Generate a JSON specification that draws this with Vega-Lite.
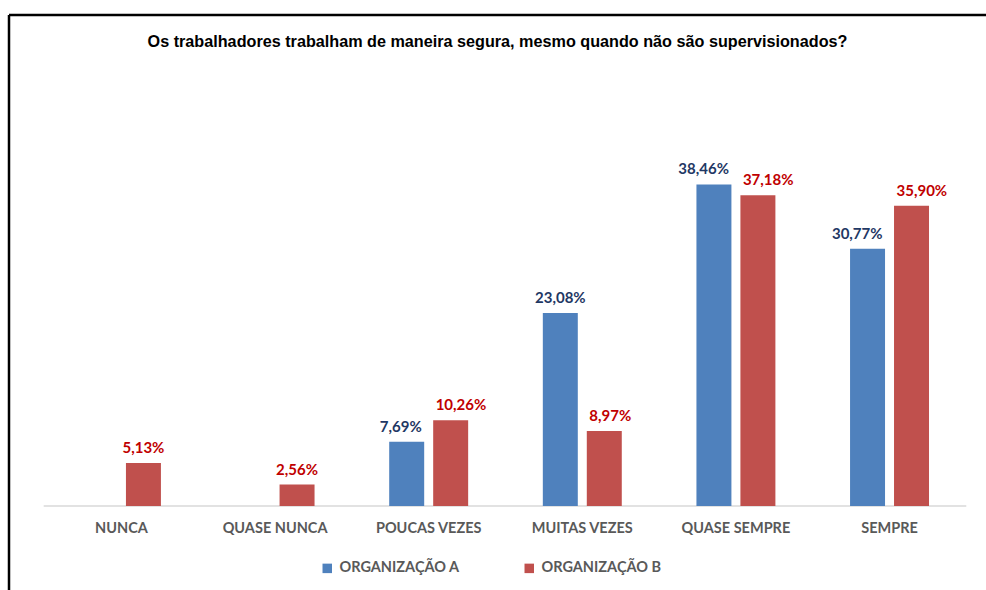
{
  "$schema": "https://vega.github.io/schema/vega-lite/v6.json",
  "autosize": {"type": "none"},
  "padding": {"left": 9, "top": 15, "right": 0, "bottom": 0},
  "width": 977,
  "height": 575,
  "background": "white",
  "title": {
    "text": "Os trabalhadores trabalham de maneira segura, mesmo quando não são supervisionados?",
    "font": "Liberation Sans",
    "fontSize": 16.2,
    "fontWeight": "bold",
    "color": "#000000",
    "anchor": "middle",
    "frame": "group",
    "baseline": "middle",
    "offset": 0,
    "dy": 43
  },
  "config": {
    "view": {"stroke": "#000000", "strokeWidth": 2.5, "strokeDash": [977, 1552, 575, 0]}
  },
  "data": {
    "values": [
      {"cat": "NUNCA", "org": "ORGANIZAÇÃO B", "value": 5.13, "label": "5,13%"},
      {"cat": "QUASE NUNCA", "org": "ORGANIZAÇÃO B", "value": 2.56, "label": "2,56%"},
      {"cat": "POUCAS VEZES", "org": "ORGANIZAÇÃO A", "value": 7.69, "label": "7,69%"},
      {"cat": "POUCAS VEZES", "org": "ORGANIZAÇÃO B", "value": 10.26, "label": "10,26%"},
      {"cat": "MUITAS VEZES", "org": "ORGANIZAÇÃO A", "value": 23.08, "label": "23,08%"},
      {"cat": "MUITAS VEZES", "org": "ORGANIZAÇÃO B", "value": 8.97, "label": "8,97%"},
      {"cat": "QUASE SEMPRE", "org": "ORGANIZAÇÃO A", "value": 38.46, "label": "38,46%"},
      {"cat": "QUASE SEMPRE", "org": "ORGANIZAÇÃO B", "value": 37.18, "label": "37,18%"},
      {"cat": "SEMPRE", "org": "ORGANIZAÇÃO A", "value": 30.77, "label": "30,77%"},
      {"cat": "SEMPRE", "org": "ORGANIZAÇÃO B", "value": 35.90, "label": "35,90%"}
    ]
  },
  "layer": [
    {
      "data": {"values": [{"cat": "NUNCA", "last": "SEMPRE"}]},
      "mark": {"type": "rule", "color": "#D9D9D9", "strokeWidth": 1.5},
      "encoding": {
        "x": {
          "field": "cat",
          "type": "nominal",
          "bandPosition": -0.485,
          "scale": {
            "domain": ["NUNCA", "QUASE NUNCA", "POUCAS VEZES", "MUITAS VEZES", "QUASE SEMPRE", "SEMPRE"],
            "paddingInner": 0.486,
            "paddingOuter": 0.423,
            "align": 0.5615
          },
          "axis": {
            "title": null,
            "orient": "bottom",
            "offset": -84,
            "domain": false,
            "ticks": false,
            "tickSize": 0,
            "labelAngle": 0,
            "labelFont": "Lato",
            "labelFontWeight": "bold",
            "labelFontSize": 14.5,
            "labelColor": "#595959",
            "labelBaseline": "alphabetic",
            "labelPadding": 26
          }
        },
        "x2": {"field": "last", "bandPosition": 1.472},
        "y": {"datum": 0, "type": "quantitative", "scale": {"domain": [-10.05, 58.73], "nice": false, "zero": false}, "axis": null}
      }
    },
    {
      "mark": {"type": "bar"},
      "encoding": {
        "x": {"field": "cat", "type": "nominal"},
        "xOffset": {
          "field": "org",
          "type": "nominal",
          "scale": {"domain": ["ORGANIZAÇÃO A", "ORGANIZAÇÃO B"], "paddingInner": 0.2045, "paddingOuter": 0}
        },
        "y": {"field": "value", "type": "quantitative", "stack": null},
        "y2": {"datum": 0},
        "color": {
          "field": "org",
          "type": "nominal",
          "scale": {"domain": ["ORGANIZAÇÃO A", "ORGANIZAÇÃO B"], "range": ["#4F81BD", "#C0504D"]},
          "legend": {
            "title": null,
            "orient": "none",
            "direction": "horizontal",
            "legendX": 311,
            "legendY": 546,
            "symbolType": "square",
            "symbolSize": 90,
            "symbolStrokeWidth": 0,
            "labelFont": "Lato",
            "labelFontWeight": "bold",
            "labelFontSize": 14.5,
            "labelColor": "#595959",
            "labelOffset": 5,
            "columnPadding": 62
          }
        }
      }
    },
    {
      "transform": [{"filter": "(datum.org === 'ORGANIZAÇÃO B' && (datum.cat === 'NUNCA' || datum.cat === 'QUASE NUNCA')) || (datum.org === 'ORGANIZAÇÃO A' && datum.cat === 'MUITAS VEZES')"}],
      "mark": {"type": "text", "font": "Lato", "fontWeight": "bold", "fontSize": 15, "baseline": "alphabetic", "align": "center", "dy": -10},
      "encoding": {
        "x": {"field": "cat", "type": "nominal"},
        "xOffset": {"field": "org", "type": "nominal"},
        "y": {"field": "value", "type": "quantitative", "stack": null},
        "text": {"field": "label", "type": "nominal"},
        "color": {
          "condition": {"test": "datum.org === 'ORGANIZAÇÃO A'", "value": "#1F3864"},
          "value": "#C00000"
        }
      }
    },
    {
      "transform": [{"filter": "datum.org === 'ORGANIZAÇÃO A' && datum.cat !== 'MUITAS VEZES'"}],
      "mark": {"type": "text", "font": "Lato", "fontWeight": "bold", "fontSize": 15, "baseline": "alphabetic", "align": "right", "dx": 15, "dy": -10, "color": "#1F3864"},
      "encoding": {
        "x": {"field": "cat", "type": "nominal"},
        "xOffset": {"field": "org", "type": "nominal"},
        "y": {"field": "value", "type": "quantitative", "stack": null},
        "text": {"field": "label", "type": "nominal"}
      }
    },
    {
      "transform": [{"filter": "datum.org === 'ORGANIZAÇÃO B' && datum.cat !== 'NUNCA' && datum.cat !== 'QUASE NUNCA'"}],
      "mark": {"type": "text", "font": "Lato", "fontWeight": "bold", "fontSize": 15, "baseline": "alphabetic", "align": "left", "dx": -15, "dy": -10, "color": "#C00000"},
      "encoding": {
        "x": {"field": "cat", "type": "nominal"},
        "xOffset": {"field": "org", "type": "nominal"},
        "y": {"field": "value", "type": "quantitative", "stack": null},
        "text": {"field": "label", "type": "nominal"}
      }
    }
  ]
}
